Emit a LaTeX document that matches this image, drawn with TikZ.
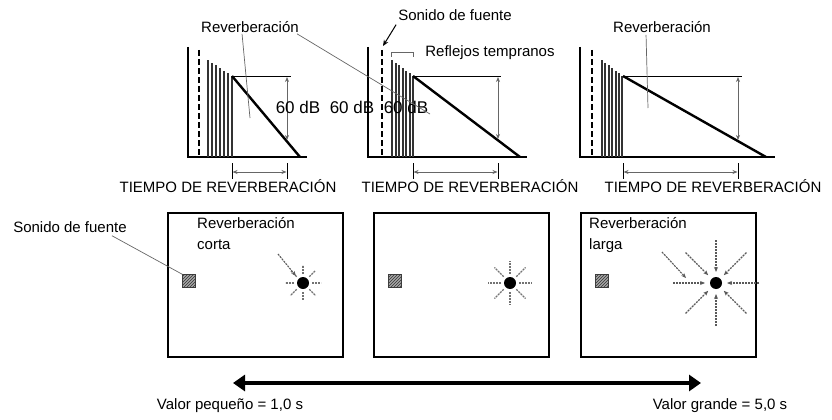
\documentclass[tikz,border=0pt]{standalone}
\usepackage{fontspec}
\setmainfont{Liberation Sans}
\usetikzlibrary{arrows.meta,patterns}

\begin{document}
\begin{tikzpicture}[x=1pt, y=-1pt,
    lbl/.style={font=\fontsize{15}{17}\selectfont, inner sep=0pt},
    biglbl/.style={font=\fontsize{17}{19}\selectfont, inner sep=0pt},
    axis/.style={line width=1.2pt},
    direct/.style={line width=2.4pt, dash pattern=on 6pt off 3pt},
    bar/.style={line width=2pt, black!80},
    decay/.style={line width=2.4pt},
    guide/.style={line width=0.9pt},
    dim/.style={line width=0.8pt, black!60, {Stealth[length=5pt,width=4pt]}-{Stealth[length=5pt,width=4pt]}},
    leader/.style={line width=0.7pt, black!60},
    room/.style={draw, line width=2pt, minimum width=175pt, minimum height=144pt, anchor=north west, inner sep=0pt},
    source/.style={draw=black!75, fill=black!35, postaction={pattern=north east lines, pattern color=black!80}, minimum size=13pt, inner sep=0pt},
    listener/.style={circle, fill=black, minimum size=12pt, inner sep=0pt},
    ray/.style={line width=1.1pt, black!55, dash pattern=on 2pt off 1pt},
    inray/.style={line width=1.1pt, black!65, dash pattern=on 2pt off 1pt, -{Stealth[length=5pt,width=4pt]}},
]
\useasboundingbox (0,0) rectangle (832,420);

% Decay curve 1 (short)
\draw[axis] (188,47) -- (188,157) -- (307,157);
\draw[direct] (199,50) -- (199,157);
\foreach \i in {0,...,6}
    \draw[bar] ({208+4*\i},157) -- ({208+4*\i},{60+16*\i/6});
\draw[decay] (232,76) -- (300,157);
\draw[guide] (232,76) -- (291,76);
\draw[dim] (287,77) -- (287,140);
\draw[guide] (232,163) -- (232,179);
\draw[guide] (287,163) -- (287,179);
\draw[dim] (232.5,172) -- (286.5,172);

% Decay curve 2
\draw[axis] (368,47) -- (368,157) -- (527,157);
\draw[direct] (382,50) -- (382,157);
\foreach \i in {0,...,6}
    \draw[bar] ({392+3.5*\i},157) -- ({392+3.5*\i},{60+16*\i/6});
\draw[decay] (413,76) -- (520,157);
\draw[guide] (413,76) -- (501,76);
\draw[dim] (498,77) -- (498,139);
\draw[guide] (413,163) -- (413,179);
\draw[guide] (498,163) -- (498,179);
\draw[dim] (413.5,172) -- (497.5,172);
\draw[leader] (391,57) -- (391,52) -- (413,52) -- (413,57);

% Decay curve 3 (long)
\draw[axis] (580,47) -- (580,157) -- (775,157);
\draw[direct] (592,50) -- (592,157);
\foreach \i in {0,...,6}
    \draw[bar] ({602+3.4*\i},157) -- ({602+3.4*\i},{60+16*\i/6});
\draw[decay] (623,76) -- (766,157);
\draw[guide] (623,76) -- (742,76);
\draw[dim] (738,77) -- (738,140);
\draw[guide] (623,163) -- (623,179);
\draw[guide] (738,163) -- (738,179);
\draw[dim] (623.5,172) -- (737.5,172);

% Labels of the curves
\node[lbl] (rev1) at (250,27) {Reverberación};
\node[lbl] (rev3) at (662,27) {Reverberación};
\node[lbl] (direct) at (455,15) {Sonido de fuente};
\node[lbl] (early) at (490,53) {Reflejos tempranos};
\node[biglbl] (db1) at (298,107) {60 dB};
\node[biglbl] (db2) at (352,107) {60 dB};
\node[biglbl] (db3) at (406,107) {60 dB};
\node[lbl] (rt1) at (228,186) {TIEMPO DE REVERBERACIÓN};
\node[lbl] (rt2) at (470,186) {TIEMPO DE REVERBERACIÓN};
\node[lbl] (rt3) at (713,186) {TIEMPO DE REVERBERACIÓN};

\coordinate (tail1) at (250,118);
\coordinate (tail2) at (430,114);
\coordinate (tail3) at (648,108);
\coordinate (dirtop) at (383,46);
\draw[leader] (rev1.south west) ++(41,1) -- (tail1);
\draw[leader] (rev1.south east) ++(-2,1) -- (tail2);
\draw[leader] (rev3.south west) ++(33,2) -- (tail3);
\draw[line width=1pt, -{Stealth[length=6pt,width=5pt]}] (direct.south west) ++(-2,4) -- (dirtop);

% Rooms
\node[room] (room1) at (167,212) {};
\node[room] (room2) at (373,212) {};
\node[room] (room3) at (580,212) {};

\node[source] (src1) at (189,281) {};
\node[source] (src2) at (395,281) {};
\node[source] (src3) at (602,281) {};

\node[listener] (lst1) at (303,283) {};
\node[listener] (lst2) at (510,283) {};
\node[listener] (lst3) at (716,283) {};

\foreach \a in {0,45,...,315} {
    \draw[ray] (lst1) ++(\a:9) -- ++(\a:9);
    \draw[ray] (lst2) ++(\a:9) -- ++(\a:13);
    \draw[inray] (lst3) ++(\a:43) -- ++(\a:-32);
}
\coordinate (in1) at (278,254);
\coordinate (in3) at (662,252);
\draw[inray] (in1) -- (296,276);
\draw[inray] (in3) -- (686,278);

\node[lbl, align=left, anchor=north west] (short) at (197,217) {Reverberación\\[4pt]corta};
\node[lbl, align=left, anchor=north west] (long) at (589,217) {Reverberación\\[4pt]larga};
\node[lbl] (srclbl) at (70,227) {Sonido de fuente};
\draw[leader] (srclbl.south east) ++(-15,3) -- (src1.north west);

% Scale
\coordinate (small) at (233,383);
\coordinate (large) at (701,383);
\draw[line width=4pt, {Triangle[length=12pt,width=16pt]}-{Triangle[length=12pt,width=16pt]}] (small) -- (large);
\node[lbl] (smallval) at (230,406) {Valor pequeño = 1,0 s};
\node[lbl] (largeval) at (720,406) {Valor grande = 5,0 s};

\end{tikzpicture}
\end{document}
